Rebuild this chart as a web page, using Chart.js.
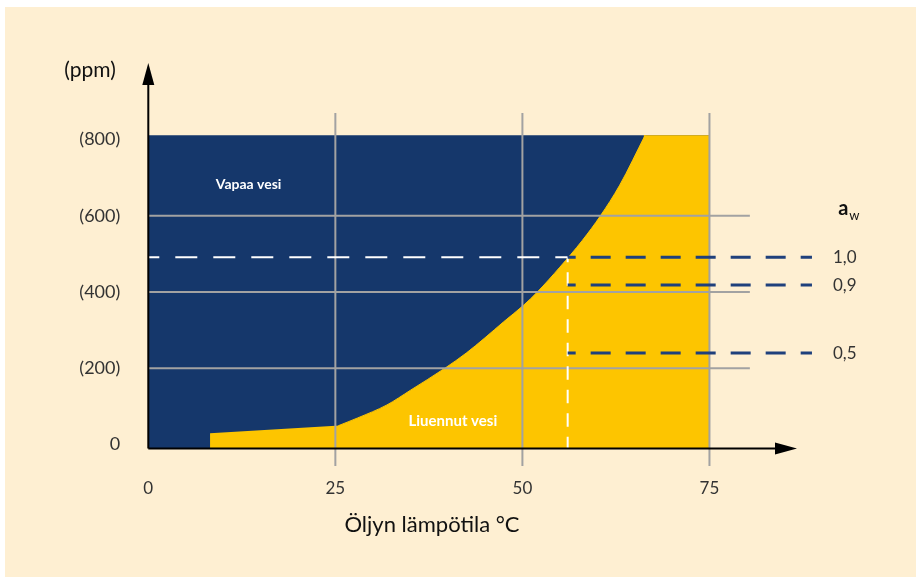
<!DOCTYPE html>
<html>
<head>
<meta charset="utf-8">
<script src="https://cdn.jsdelivr.net/npm/chart.js@4"></script>
<style>
  body { margin: 0; background: #fff; }
  canvas { display: block; }
</style>
</head>
<body>
<canvas id="oil_chart" width="916" height="577"></canvas>
<script>
const oilChart = document.querySelector('#oil_chart')

// axes
const tempTicks = [0, 25, 50, 75]
const ppmTicks = [0, 200, 400, 600, 800]
const ppmLabels = ['0', '(200)', '(400)', '(600)', '(800)']

// dissolved water limit
// low straight part, the saturation curve above 25 °C, and the capped top
const baseTemp = [8.25, 8.25, 25.6]
const basePpm = [0, 30, 50]
const curveTemp = [25.4, 28, 31.9, 35, 39.7, 42.5, 45, 47.5, 50.2, 52, 55, 58, 60.4, 63, 66.4]
const curvePpm = [49.5, 70, 104, 142, 201, 240, 280, 322, 366, 400, 465, 535, 599, 680, 811]
const capTemp = [66.2, 75]
const capPpm = [811, 811]

// free water block
const blockTemp = [0, 75]
const blockPpm = [811, 811]

// water activity levels
const awLabels = ['1,0', '0,9', '0,5']
const awPpm = [491, 418, 240]
const satTemp = 56.05

const cream = '#feefd2'
const navy = '#15376b'
const yellow = '#fdc500'
const grey = '#a2a2a2'
const font = 'Lato, "Open Sans", sans-serif'

const pts = (xs, ys) => xs.map((x, i) => ({ x: x, y: ys[i] }))

const gridSets = []
tempTicks.slice(1).forEach(t => {
  gridSets.push({ data: [{ x: t, y: -56 }, { x: t, y: 869 }], borderColor: grey, borderWidth: 2, order: 4, clip: false })
})
ppmTicks.slice(1, 4).forEach(p => {
  gridSets.push({ data: [{ x: 0, y: p }, { x: 80.4, y: p }], borderColor: grey, borderWidth: 2, order: 4, clip: false })
})

const awSets = awPpm.map(p => ({
  data: [{ x: satTemp, y: p }, { x: 88.7, y: p }],
  borderColor: '#1f407c', borderWidth: 3, borderDash: [20, 15], borderDashOffset: 12, order: 2, clip: false
}))

const background = {
  id: 'background',
  beforeDraw(chart) {
    const ctx = chart.ctx
    ctx.save()
    ctx.fillStyle = '#fff'
    ctx.fillRect(0, 0, chart.width, chart.height)
    ctx.fillStyle = cream
    ctx.fillRect(5, 7, chart.width - 5, chart.height - 7)
    ctx.restore()
  }
}

const decorations = {
  id: 'decorations',
  afterDatasetsDraw(chart) {
    const ctx = chart.ctx
    const x = chart.scales.x
    const y = chart.scales.y
    const a = chart.chartArea
    ctx.save()
    // axes with arrows
    ctx.strokeStyle = '#000'
    ctx.fillStyle = '#000'
    ctx.lineWidth = 2
    ctx.beginPath()
    ctx.moveTo(a.left, a.bottom)
    ctx.lineTo(a.right - 18, a.bottom)
    ctx.moveTo(a.left, a.bottom)
    ctx.lineTo(a.left, a.top + 18)
    ctx.stroke()
    ctx.beginPath()
    ctx.moveTo(a.right, a.bottom)
    ctx.lineTo(a.right - 22, a.bottom - 6)
    ctx.lineTo(a.right - 22, a.bottom + 6)
    ctx.closePath()
    ctx.fill()
    ctx.beginPath()
    ctx.moveTo(a.left, a.top)
    ctx.lineTo(a.left - 6, a.top + 22)
    ctx.lineTo(a.left + 6, a.top + 22)
    ctx.closePath()
    ctx.fill()

    // titles
    ctx.fillStyle = '#111'
    ctx.textAlign = 'center'
    ctx.textBaseline = 'middle'
    ctx.font = '21px ' + font
    ctx.fillText('(ppm)', 90, 70)
    ctx.font = '22px ' + font
    ctx.fillText('Öljyn lämpötila °C', 432, 525)

    // region labels
    ctx.fillStyle = '#fff'
    ctx.font = 'bold 14px ' + font
    ctx.fillText('Vapaa vesi', x.getPixelForValue(13.4), y.getPixelForValue(681))
    ctx.font = 'bold 15px ' + font
    ctx.fillText('Liuennut vesi', x.getPixelForValue(40.7), y.getPixelForValue(62))

    // water activity labels
    ctx.fillStyle = '#333'
    ctx.textAlign = 'left'
    ctx.font = '17px ' + font
    awLabels.forEach((l, i) => {
      ctx.fillText(l, x.getPixelForValue(91.5), y.getPixelForValue(awPpm[i]))
    })
    ctx.fillStyle = '#111'
    ctx.font = 'bold 20px ' + font
    ctx.fillText('a', x.getPixelForValue(92.2), y.getPixelForValue(620))
    ctx.font = '13px ' + font
    ctx.fillText('w', x.getPixelForValue(92.2) + 11, y.getPixelForValue(600))
    ctx.restore()
  }
}

new Chart(oilChart, {
  type: 'line',
  plugins: [background, decorations],
  options: {
    responsive: false,
    animation: false,
    devicePixelRatio: 1,
    layout: { padding: { top: 63.1, right: 119, left: 0, bottom: 0 } },
    elements: { point: { radius: 0 }, line: { tension: 0 } },
    plugins: {
      legend: { display: false },
      title: { display: false },
      tooltip: { enabled: false }
    },
    scales: {
      x: {
        type: 'linear',
        min: 0,
        max: 86.7,
        grid: { display: false, drawTicks: false },
        border: { display: false },
        afterBuildTicks: s => { s.ticks = tempTicks.map(v => ({ value: v })) },
        afterFit: s => { s.height = 577 - 448.4 },
        ticks: {
          autoSkip: false,
          maxRotation: 0,
          padding: 30,
          color: '#333',
          font: { family: font, size: 17 }
        }
      },
      y: {
        min: -10,
        max: 1000,
        grid: { display: false, drawTicks: false },
        border: { display: false },
        afterBuildTicks: s => { s.ticks = ppmTicks.map(v => ({ value: v })) },
        afterFit: s => { s.width = 148.3 },
        ticks: {
          autoSkip: false,
          padding: 28,
          color: '#333',
          font: { family: font, size: 18 },
          callback: v => ppmLabels[ppmTicks.indexOf(v)]
        }
      }
    }
  },
  data: {
    datasets: [
      { data: pts(blockTemp, blockPpm), backgroundColor: navy, borderColor: 'rgba(0,0,0,0)', borderWidth: 0, fill: 'start', order: 6 },
      { data: pts(baseTemp, basePpm), backgroundColor: yellow, borderColor: 'rgba(0,0,0,0)', borderWidth: 0, fill: 'start', order: 5 },
      { data: pts(curveTemp, curvePpm), backgroundColor: yellow, borderColor: yellow, borderWidth: 1, fill: 'start', cubicInterpolationMode: 'monotone', order: 5 },
      { data: pts(capTemp, capPpm), backgroundColor: yellow, borderColor: 'rgba(0,0,0,0)', borderWidth: 0, fill: 'start', order: 5 },
      ...gridSets,
      { data: [{ x: 0, y: awPpm[0] }, { x: satTemp, y: awPpm[0] }], borderColor: '#fff', borderWidth: 2, borderDash: [22, 16], borderDashOffset: 11, order: 3 },
      { data: [{ x: satTemp, y: awPpm[0] }, { x: satTemp, y: -10 }], borderColor: '#fff', borderWidth: 2, borderDash: [13.5, 10], borderDashOffset: 8.5, order: 3 },
      ...awSets
    ]
  }
})
</script>
</body>
</html>
